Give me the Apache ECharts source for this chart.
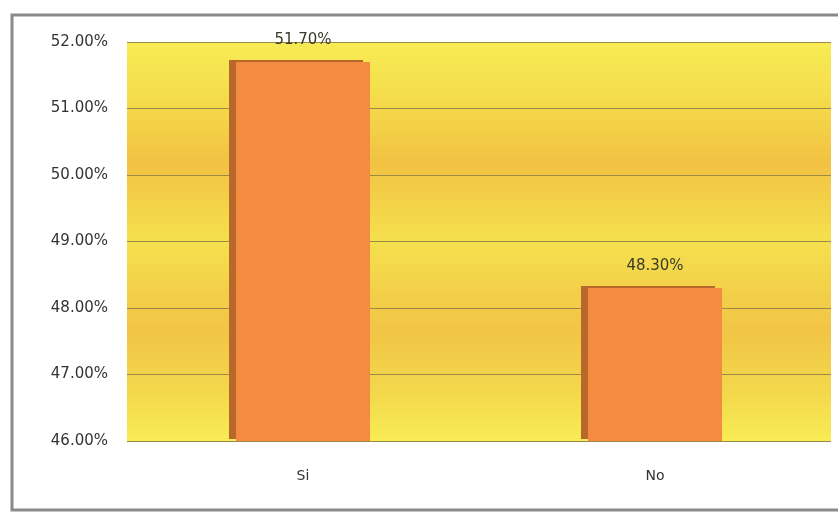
<!DOCTYPE html>
<html>
    <head>
        <meta charset='utf-8'>
        <script src='https://cdn.jsdelivr.net/npm/echarts@6/dist/echarts.min.js'></script>
    </head>
    <body style="margin:0">
        <style>
            html, body, #main {
                width: 838px;
                height: 513px;
                background: #fff;
            }
        </style>
        <div id='main'></div>
        <script>
            var categories = ['Si', 'No'];
            var values = [51.70, 48.30];
            var yMin = 46, yMax = 52, yStep = 1;

            var chart = echarts.init(document.getElementById('main'));
            chart.setOption({
                animation: false,
                textStyle: { fontFamily: 'DejaVu Sans' },
                graphic: [{
                    type: 'rect',
                    shape: { x: 12, y: 15, width: 840, height: 495 },
                    style: { fill: 'none', stroke: '#8a8a8a', lineWidth: 3 },
                    z: -1
                }],
                grid: {
                    left: 127,
                    right: 7,
                    top: 42,
                    bottom: 72,
                    show: true,
                    borderWidth: 0,
                    backgroundColor: new echarts.graphic.LinearGradient(0, 0, 0, 1, [
                        { offset: 0, color: '#f7ec55' },
                        { offset: 0.12, color: '#f5df4c' },
                        { offset: 0.3, color: '#f2c243' },
                        { offset: 0.5, color: '#f5e04e' },
                        { offset: 0.72, color: '#f2c446' },
                        { offset: 0.88, color: '#f3d84c' },
                        { offset: 1, color: '#f8ec55' }
                    ])
                },
                xAxis: {
                    type: 'category',
                    data: categories,
                    axisLine: { show: false },
                    axisTick: { show: false },
                    axisLabel: { margin: 28, fontSize: 14, color: '#333' }
                },
                yAxis: {
                    type: 'value',
                    min: yMin,
                    max: yMax,
                    interval: yStep,
                    axisLine: { show: false },
                    axisTick: { show: false },
                    axisLabel: {
                        margin: 19,
                        fontSize: 15,
                        color: '#333',
                        formatter: function (v) { return v.toFixed(2) + '%'; }
                    },
                    splitLine: { lineStyle: { color: '#9a8a45', width: 1 } }
                },
                series: [{
                    type: 'bar',
                    data: values,
                    barWidth: 134,
                    itemStyle: {
                        color: '#f38c40',
                        shadowColor: '#b9682c',
                        shadowBlur: 0,
                        shadowOffsetX: -7,
                        shadowOffsetY: -2
                    },
                    label: {
                        show: true,
                        position: 'top',
                        distance: 14,
                        fontSize: 15,
                        color: '#3a3a2a',
                        formatter: function (p) { return p.value.toFixed(2) + '%'; }
                    }
                }]
            });
        </script>
    </body>
</html>
